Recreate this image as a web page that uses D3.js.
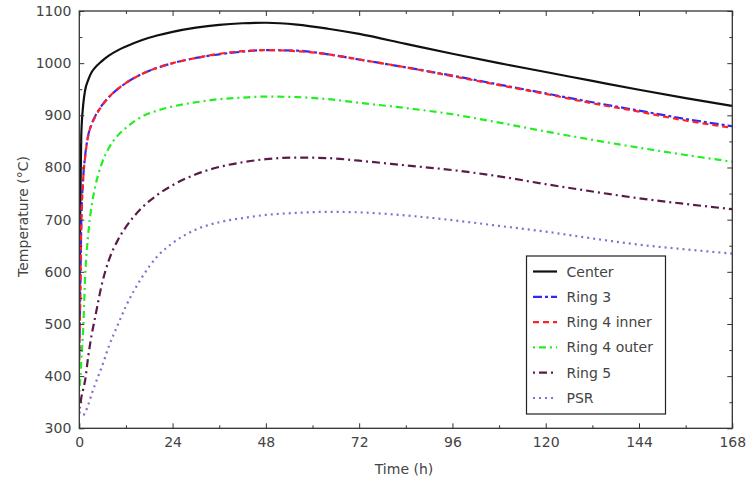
<!DOCTYPE html>
<html>
<head>
<meta charset="utf-8">
<script src="https://cdn.jsdelivr.net/npm/d3@7"></script>
<style>
  html, body { margin: 0; padding: 0; background: #fff; }
  svg { display: block; }
  text { font-family: "DejaVu Sans", sans-serif; fill: #444; }
</style>
</head>
<body>
<svg id="chart" width="748" height="481"></svg>
<script>
// Time samples (hours)
const hours = [0, 0.25, 0.5, 1, 1.5, 2.3, 3.2, 4, 5.8, 7.5, 10, 12, 16, 20, 24, 30, 36, 42, 48, 56, 64, 72, 84, 96, 108, 120, 132, 144, 156, 168];

// Temperatures (°C) per location
const center     = [520, 720, 860, 920, 948, 968, 983, 991, 1004, 1014, 1025, 1032, 1044, 1053, 1060, 1068, 1073.5, 1076.5, 1077.5, 1074, 1066, 1056, 1037, 1018, 1000, 983, 966, 949, 933, 918];
const ring3      = [440, 560, 690, 780, 822, 862, 884, 897, 919, 934, 951, 962, 979, 991, 1000, 1010, 1017, 1022, 1025, 1024, 1017, 1007, 992, 976, 959, 942, 925, 909, 893, 879];
const ring4Inner = [430, 555, 685, 778, 820, 861, 883, 896, 918, 934, 951, 962, 979, 991, 1000, 1010, 1018, 1023, 1025, 1023, 1017, 1007, 992, 975, 958, 941, 923, 907, 890, 876];
const ring4Outer = [370, 395, 430, 490, 590, 672, 728, 760, 808, 836, 862, 876, 897, 909, 917, 925, 931, 934, 936, 935, 931, 924, 914, 902, 886, 869, 853, 838, 824, 811];
const ring5      = [338, 345, 358, 375, 392, 438, 480, 510, 576, 620, 662, 686, 722, 747, 766, 787, 801, 810, 816, 819, 818, 813, 804, 795, 783, 768, 754, 741, 730, 720];
const psr        = [332, 328, 326, 325, 330, 345, 366, 383, 418, 455, 500, 534, 588, 629, 655, 681, 695, 703, 709, 713, 715, 714, 708, 699, 688, 677, 664, 652, 643, 635];

const seriesNames = ["Center", "Ring 3", "Ring 4 inner", "Ring 4 outer", "Ring 5", "PSR"];
const seriesValues = [center, ring3, ring4Inner, ring4Outer, ring5, psr];

// Axis ticks
const xTicks = [0, 24, 48, 72, 96, 120, 144, 168];
const yTicks = [300, 400, 500, 600, 700, 800, 900, 1000, 1100];

// Line appearance per series
const styles = [
  { color: "#111111", dash: null,        width: 2.2 },
  { color: "#2a2aff", dash: "9,3,3,3",   width: 2.2 },
  { color: "#ff2222", dash: "6,4",       width: 2.2 },
  { color: "#22ee22", dash: "2,4,7,4",   width: 2.2 },
  { color: "#5a1c46", dash: "2,4,8,4",   width: 2.2 },
  { color: "#8a6cd0", dash: "2,4",       width: 2.2 }
];

const svg = d3.select("#chart");
const plotLeft = 79.3, plotRight = 732.3, plotTop = 11, plotBottom = 428.3;
const fontSize = "14px";

const x = d3.scaleLinear().domain([0, 168]).range([plotLeft, plotRight]);
const y = d3.scaleLinear().domain([300, 1100]).range([plotBottom, plotTop]);

// Series lines, clipped to the plot area
svg.append("clipPath").attr("id", "plotClip")
  .append("rect").attr("x", plotLeft).attr("y", plotTop)
  .attr("width", plotRight - plotLeft).attr("height", plotBottom - plotTop);

const line = d3.line()
  .x(d => x(d[0]))
  .y(d => y(d[1]))
  .curve(d3.curveMonotoneX);

const plot = svg.append("g").attr("clip-path", "url(#plotClip)");
seriesValues.forEach((vals, i) => {
  const pts = hours.map((h, k) => [h, vals[k]]);
  plot.append("path")
    .attr("d", line(pts))
    .attr("fill", "none")
    .attr("stroke", styles[i].color)
    .attr("stroke-width", styles[i].width)
    .attr("stroke-dasharray", styles[i].dash)
    .attr("stroke-linejoin", "round");
});

// Frame with inward ticks on all four sides
const axisColor = "#333";
function styleAxis(g) {
  g.select(".domain").remove();
  g.selectAll("line").attr("stroke", axisColor);
  g.selectAll("text").attr("fill", "#444").style("font-size", fontSize)
    .style("font-family", "'DejaVu Sans', sans-serif");
}
const xMinor = d3.range(12, 168, 24);
const yMinor = d3.range(350, 1100, 100);

svg.append("g").attr("transform", `translate(0,${plotBottom})`)
  .call(d3.axisBottom(x).tickValues(xTicks).tickSize(-5).tickPadding(9).tickFormat(d3.format("d")))
  .call(styleAxis);
svg.append("g").attr("transform", `translate(0,${plotBottom})`)
  .call(d3.axisBottom(x).tickValues(xMinor).tickSize(-3).tickFormat(""))
  .call(styleAxis);
svg.append("g").attr("transform", `translate(0,${plotTop})`)
  .call(d3.axisTop(x).tickValues(xTicks).tickSize(-5).tickFormat(""))
  .call(styleAxis);
svg.append("g").attr("transform", `translate(0,${plotTop})`)
  .call(d3.axisTop(x).tickValues(xMinor).tickSize(-3).tickFormat(""))
  .call(styleAxis);

svg.append("g").attr("transform", `translate(${plotLeft},0)`)
  .call(d3.axisLeft(y).tickValues(yTicks).tickSize(-5).tickPadding(8).tickFormat(d3.format("d")))
  .call(styleAxis);
svg.append("g").attr("transform", `translate(${plotLeft},0)`)
  .call(d3.axisLeft(y).tickValues(yMinor).tickSize(-3).tickFormat(""))
  .call(styleAxis);
svg.append("g").attr("transform", `translate(${plotRight},0)`)
  .call(d3.axisRight(y).tickValues(yTicks).tickSize(-5).tickFormat(""))
  .call(styleAxis);
svg.append("g").attr("transform", `translate(${plotRight},0)`)
  .call(d3.axisRight(y).tickValues(yMinor).tickSize(-3).tickFormat(""))
  .call(styleAxis);

svg.append("rect")
  .attr("x", plotLeft).attr("y", plotTop)
  .attr("width", plotRight - plotLeft).attr("height", plotBottom - plotTop)
  .attr("fill", "none").attr("stroke", axisColor).attr("stroke-width", 1.3);

// Axis titles
svg.append("text")
  .attr("x", 404).attr("y", 474)
  .attr("text-anchor", "middle").style("font-size", fontSize)
  .text("Time (h)");
svg.append("text")
  .attr("transform", `translate(23,216.5) rotate(-90)`)
  .attr("text-anchor", "middle").attr("dy", "0.35em").style("font-size", fontSize)
  .text("Temperature (°C)");

// Legend
const lg = svg.append("g");
lg.append("rect")
  .attr("x", 526.5).attr("y", 256)
  .attr("width", 139).attr("height", 158)
  .attr("fill", "#fff").attr("stroke", "#222").attr("stroke-width", 1.2);
seriesNames.forEach((name, i) => {
  const yy = 271.5 + i * 25.3;
  lg.append("line")
    .attr("x1", 533).attr("x2", 557).attr("y1", yy).attr("y2", yy)
    .attr("stroke", styles[i].color)
    .attr("stroke-width", styles[i].width)
    .attr("stroke-dasharray", styles[i].dash);
  lg.append("text")
    .attr("x", 566.5).attr("y", yy + 5)
    .style("font-size", fontSize)
    .text(name);
});
</script>
</body>
</html>
